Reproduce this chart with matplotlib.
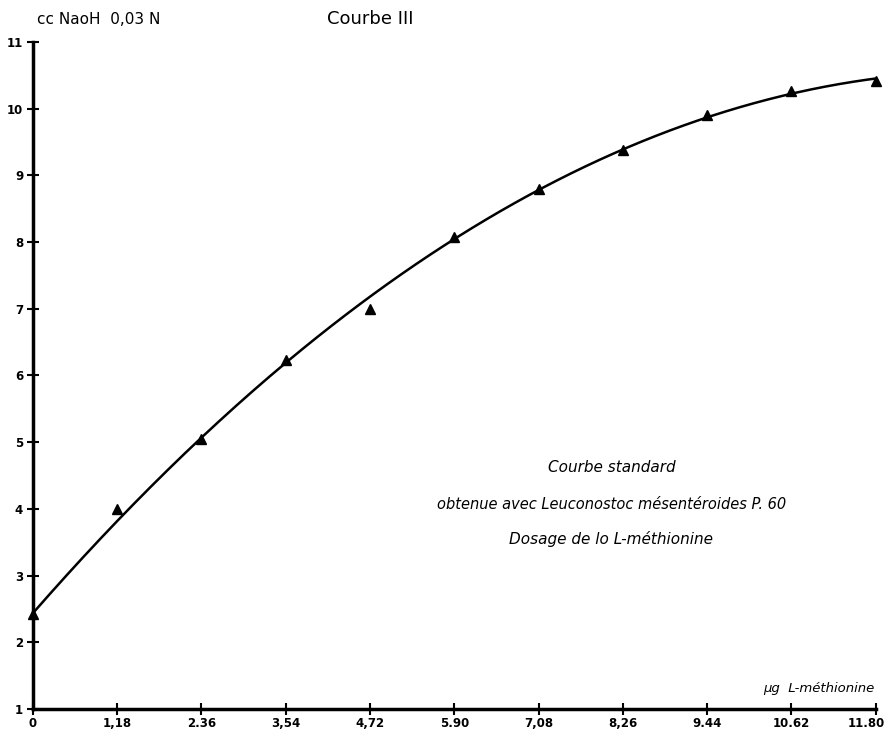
import numpy as np
import matplotlib.pyplot as plt
from matplotlib.transforms import ScaledTranslation

plt.rcParams['font.family'] = 'DejaVu Sans'

# data
dose = [0, 1.18, 2.36, 3.54, 4.72, 5.90, 7.08, 8.26, 9.44, 10.62, 11.80]
naoh = [2.43, 4.0, 5.05, 6.23, 7.0, 8.08, 8.8, 9.38, 9.9, 10.26, 10.41]
xtick_labels = ['0', '1,18', '2.36', '3,54', '4,72', '5.90', '7,08', '8,26',
                '9.44', '10.62', '11.80']
yticks = list(range(1, 12))

fig = plt.figure(figsize=(8.89, 7.34), dpi=100)
ax = fig.add_axes([0.037, 0.034, 0.948, 0.909])

# fitted standard curve (hand-drawn curve goes through the first point)
w = np.ones(len(dose))
w[0] = 4
coef = np.polyfit(dose, naoh, 3, w=w)
xs = np.linspace(0, 11.8, 300)
ax.plot(xs, np.polyval(coef, xs), color='black', lw=1.8, clip_on=False)
ax.plot(dose, naoh, '^', color='black', markersize=7, clip_on=False, zorder=3)

ax.set_xlim(0, 11.8)
ax.set_ylim(1, 11)
ax.set_xticks(dose)
ax.set_xticklabels(xtick_labels, fontsize=8.5, fontweight='bold')
ax.set_yticks(yticks)
ax.set_yticklabels([str(v) for v in yticks], fontsize=8.5, fontweight='bold')
ax.tick_params(axis='both', direction='inout', length=8, width=1.5, pad=3)
ax.tick_params(axis='x', pad=2)
# last label sits against the right edge
lbl = ax.xaxis.get_major_ticks()[-1].label1
lbl.set_transform(lbl.get_transform() + ScaledTranslation(-0.09, 0, fig.dpi_scale_trans))

for s in ['top', 'right']:
    ax.spines[s].set_visible(False)
for s in ['left', 'bottom']:
    ax.spines[s].set_linewidth(2.5)

fig.text(0.042, 0.974, 'cc NaoH  0,03 N', fontsize=11, va='center')
fig.text(0.368, 0.974, 'Courbe III', fontsize=13, va='center')
fig.text(0.984, 0.062, 'µg  L-méthionine', fontsize=9.5, style='italic', ha='right', va='center')

ax.text(8.1, 4.62, 'Courbe standard', fontsize=11, style='italic', ha='center', va='center')
ax.text(8.1, 4.07, 'obtenue avec Leuconostoc mésentéroides P. 60', fontsize=10.5,
        style='italic', ha='center', va='center')
ax.text(8.1, 3.55, 'Dosage de lo L-méthionine', fontsize=11, style='italic',
        ha='center', va='center')

plt.savefig('out.png', dpi=100)
